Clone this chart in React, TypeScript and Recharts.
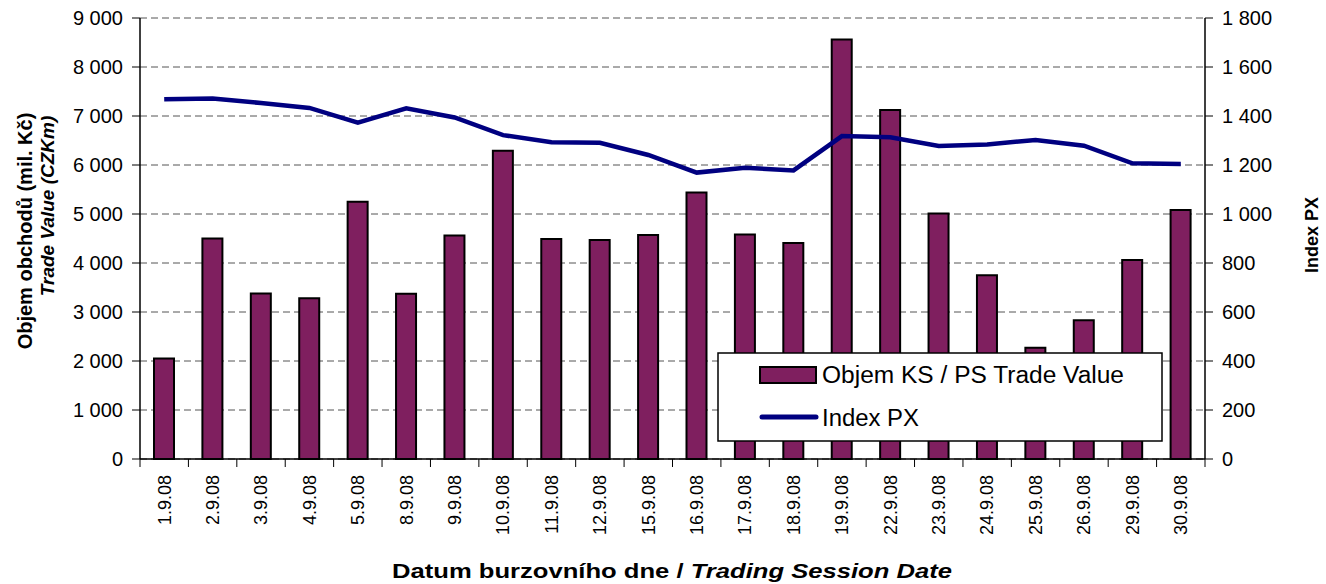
import { ComposedChart, Bar, Line, XAxis, YAxis, CartesianGrid } from 'recharts'

const dates = [
  '1.9.08', '2.9.08', '3.9.08', '4.9.08', '5.9.08', '8.9.08', '9.9.08', '10.9.08',
  '11.9.08', '12.9.08', '15.9.08', '16.9.08', '17.9.08', '18.9.08', '19.9.08', '22.9.08',
  '23.9.08', '24.9.08', '25.9.08', '26.9.08', '29.9.08', '30.9.08',
]

const tradeValue = [
  2050, 4500, 3380, 3280, 5250, 3370, 4560, 6290, 4490, 4470, 4570,
  5440, 4580, 4410, 8560, 7120, 5010, 3750, 2270, 2830, 4060, 5080,
]

const indexPx = [
  1468, 1471, 1453, 1433, 1373, 1431, 1394, 1322, 1293, 1291, 1241,
  1169, 1189, 1178, 1318, 1313, 1278, 1284, 1302, 1279, 1207, 1204,
]

const leftTicks = [0, 1000, 2000, 3000, 4000, 5000, 6000, 7000, 8000, 9000]
const rightTicks = [0, 200, 400, 600, 800, 1000, 1200, 1400, 1600, 1800]

const data = dates.map((date, i) => ({ date, value: tradeValue[i], px: indexPx[i] }))

const FONT = 'Arial, "Liberation Sans", sans-serif'
const BAR_COLOR = '#7f1f5f'
const LINE_COLOR = '#000080'
const PLOT_LEFT = 140
const PLOT_RIGHT = 1205
const BAND = (PLOT_RIGHT - PLOT_LEFT) / dates.length

const fmt = (v: number) => String(v).replace(/\B(?=(\d{3})+(?!\d))/g, ' ')

// category ticks sit on the band edges, labels rotated under the band centre
function DateTick(props: any) {
  const { x, y, payload, index } = props
  const left = x - BAND / 2
  const right = x + BAND / 2
  return (
    <g>
      <line x1={left} y1={y} x2={left} y2={y + 8} stroke="#000" strokeWidth={1} />
      {index === dates.length - 1 && (
        <line x1={right} y1={y} x2={right} y2={y + 8} stroke="#000" strokeWidth={1} />
      )}
      <text
        x={x}
        y={y + 16}
        transform={`rotate(-90 ${x} ${y + 16})`}
        textAnchor="end"
        dy="0.35em"
        fontSize={18}
        fontFamily={FONT}
        fill="#000"
      >
        {payload.value}
      </text>
    </g>
  )
}

export default function App() {
  return (
    <div style={{ position: 'absolute', left: 0, top: 0, width: 1326, height: 584, background: '#fff', overflow: 'hidden' }}>
      <ComposedChart
        width={1326}
        height={584}
        data={data}
        margin={{ top: 18, right: 0, left: 0, bottom: 0 }}
      >
        <CartesianGrid
          yAxisId="left"
          vertical={false}
          stroke="#555"
          strokeDasharray="7 4"
        />
        <XAxis
          dataKey="date"
          height={125}
          interval={0}
          tickSize={0}
          tickMargin={0}
          tickLine={false}
          axisLine={{ stroke: '#000', strokeWidth: 1.5 }}
          tick={<DateTick />}
        />
        <YAxis
          yAxisId="left"
          width={140}
          domain={[0, 9000]}
          ticks={leftTicks}
          tickFormatter={fmt}
          tickSize={8}
          tickMargin={9}
          axisLine={{ stroke: '#000', strokeWidth: 1.5 }}
          tickLine={{ stroke: '#000' }}
          tick={{ fill: '#000', fontSize: 20, fontFamily: FONT }}
        />
        <YAxis
          yAxisId="right"
          orientation="right"
          width={121}
          domain={[0, 1800]}
          ticks={rightTicks}
          tickFormatter={fmt}
          tickSize={8}
          tickMargin={9}
          axisLine={{ stroke: '#000', strokeWidth: 1.5 }}
          tickLine={{ stroke: '#000' }}
          tick={{ fill: '#000', fontSize: 20, fontFamily: FONT }}
        />
        <Bar
          yAxisId="left"
          dataKey="value"
          barSize={20}
          fill={BAR_COLOR}
          stroke="#000"
          strokeWidth={2}
          isAnimationActive={false}
        />
        <Line
          yAxisId="right"
          dataKey="px"
          type="linear"
          stroke={LINE_COLOR}
          strokeWidth={4.5}
          dot={false}
          isAnimationActive={false}
        />
      </ComposedChart>

      {/* axis titles and legend drawn on top */}
      <svg
        width={1326}
        height={584}
        style={{ position: 'absolute', left: 0, top: 0, pointerEvents: 'none' }}
        fontFamily={FONT}
      >
        <text
          transform="translate(32 231) rotate(-90)"
          textAnchor="middle"
          fontSize={20}
          fontWeight="bold"
        >
          Objem obchodů (mil. Kč)
        </text>
        <text
          transform="translate(54 206) rotate(-90)"
          textAnchor="middle"
          fontSize={19}
          fontWeight="bold"
          fontStyle="italic"
        >
          Trade Value (CZKm)
        </text>
        <text
          transform="translate(1318 235) rotate(-90)"
          textAnchor="middle"
          fontSize={18}
          fontWeight="bold"
        >
          Index PX
        </text>
        <text
          x={392}
          y={578}
          fontSize={20}
          fontWeight="bold"
          textLength={560}
          lengthAdjust="spacingAndGlyphs"
        >
          Datum burzovního dne / <tspan fontStyle="italic">Trading Session Date</tspan>
        </text>

        <rect x={718} y={353} width={444} height={88} fill="#fff" stroke="#000" strokeWidth={1.5} />
        <rect x={760} y={367} width={56} height={16} fill={BAR_COLOR} stroke="#000" strokeWidth={2} />
        <text x={822} y={383} fontSize={23} textLength={302} lengthAdjust="spacingAndGlyphs">
          Objem KS / PS Trade Value
        </text>
        <line x1={762} y1={417} x2={816} y2={417} stroke={LINE_COLOR} strokeWidth={5} strokeLinecap="round" />
        <text x={822} y={426} fontSize={23} textLength={97} lengthAdjust="spacingAndGlyphs">
          Index PX
        </text>
      </svg>
    </div>
  )
}
